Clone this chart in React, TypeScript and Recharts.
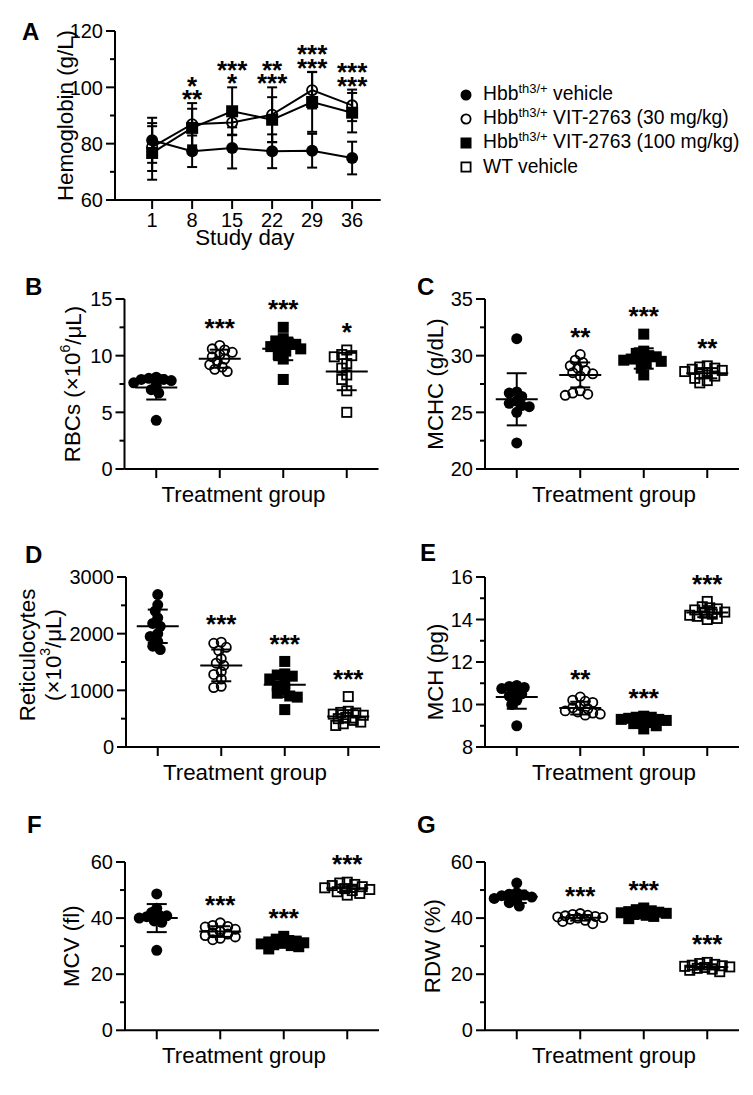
import React from "react";
import { ComposedChart, Line, Scatter, XAxis, YAxis, ErrorBar, Label } from "recharts";

const FONT = '"Liberation Sans", Arial, Helvetica, sans-serif';
const INK = "#000";
const AXIS = { stroke: INK, strokeWidth: 2 };

// Panel A: hemoglobin over the study
const studyDays = [1, 8, 15, 22, 29, 36];
const hbVehicle = [81.2, 77.3, 78.5, 77.3, 77.5, 74.9];
const hbVehicleSd = [8.0, 5.6, 7.3, 6.0, 6.0, 5.8];
const hbLow = [78.8, 86.9, 87.5, 90.3, 99.0, 93.6];
const hbLowSd = [8.5, 7.5, 4.3, 9.7, 6.5, 5.6];
const hbHigh = [76.7, 85.6, 91.5, 88.5, 94.8, 91.0];
const hbHighSd = [9.5, 6.8, 8.5, 8.0, 10.6, 7.0];
const hbStarsUpper = ["", "*", "***", "**", "***", "***"];
const hbStarsLower = ["", "**", "*", "***", "***", "***"];
const hbTicks = [60, 70, 80, 90, 100, 110, 120];
const hbMajor = [60, 80, 100, 120];

// Legend
const legendText = ["vehicle", "VIT-2763 (30 mg/kg)", "VIT-2763 (100 mg/kg)", "WT vehicle"];
const legendHbb = [true, true, true, false];

// Panel B: RBCs
const rbcVehicle = [8.1, 8.0, 7.9, 7.9, 7.8, 7.6, 7.4, 7.0, 6.7, 4.3];
const rbcLow = [10.9, 10.6, 10.5, 10.3, 10.1, 9.9, 9.7, 9.5, 9.2, 9.0, 8.8, 8.6];
const rbcHigh = [12.5, 11.5, 11.3, 11.1, 11.0, 10.9, 10.8, 10.6, 10.4, 10.1, 9.7, 7.9];
const rbcWt = [10.5, 10.1, 10.0, 9.9, 9.3, 8.9, 8.3, 7.9, 6.9, 5.0];
const rbcMean = [7.2, 9.73, 10.6, 8.6];
const rbcSd = [1.07, 0.8, 1.0, 1.65];
const rbcStars = ["", "***", "***", "*"];
const rbcTicks = [0, 2.5, 5, 7.5, 10, 12.5, 15];
const rbcMajor = [0, 5, 10, 15];

// Panel C: MCHC
const mchcVehicle = [31.5, 26.8, 26.7, 26.4, 26.0, 25.8, 25.6, 25.5, 25.0, 22.3];
const mchcLow = [30.1, 29.6, 29.4, 29.1, 28.9, 28.7, 28.5, 28.4, 28.2, 26.9, 26.7, 26.5, 26.6];
const mchcHigh = [31.9, 30.4, 30.2, 30.0, 29.9, 29.8, 29.7, 29.6, 29.5, 29.3, 28.9, 28.3];
const mchcWt = [29.1, 29.0, 28.9, 28.8, 28.7, 28.6, 28.5, 28.4, 28.2, 28.0, 27.8, 27.6];
const mchcMean = [26.15, 28.3, 29.75, 28.45];
const mchcSd = [2.3, 1.1, 0.9, 0.45];
const mchcStars = ["", "**", "***", "**"];
const mchcTicks = [20, 22.5, 25, 27.5, 30, 32.5, 35];
const mchcMajor = [20, 25, 30, 35];

// Panel D: reticulocytes
const reticVehicle = [2690, 2510, 2400, 2280, 2180, 2130, 2000, 1950, 1860, 1780, 1720];
const reticLow = [1850, 1830, 1760, 1700, 1560, 1480, 1440, 1330, 1280, 1200, 1070, 1050];
const reticHigh = [1510, 1290, 1270, 1250, 1200, 1120, 1080, 1000, 950, 900, 880, 660];
const reticWt = [890, 630, 610, 600, 580, 560, 520, 500, 470, 440, 410, 380];
const reticMean = [2130, 1440, 1100, 540];
const reticSd = [295, 280, 220, 110];
const reticStars = ["", "***", "***", "***"];
const reticTicks = [0, 500, 1000, 1500, 2000, 2500, 3000];
const reticMajor = [0, 1000, 2000, 3000];

// Panel E: MCH
const mchVehicle = [10.9, 10.85, 10.8, 10.75, 10.6, 10.5, 10.4, 10.2, 10.0, 9.0];
const mchLow = [10.35, 10.2, 10.15, 10.1, 9.95, 9.85, 9.8, 9.7, 9.65, 9.6, 9.55, 9.5];
const mchHigh = [9.45, 9.4, 9.4, 9.35, 9.3, 9.3, 9.25, 9.2, 9.15, 9.1, 9.0, 8.85];
const mchWt = [14.85, 14.6, 14.55, 14.5, 14.45, 14.35, 14.3, 14.25, 14.2, 14.15, 14.05, 14.0];
const mchMean = [10.35, 9.83, 9.25, 14.33];
const mchSd = [0.55, 0.3, 0.17, 0.22];
const mchStars = ["", "**", "***", "***"];
const mchTicks = [8, 9, 10, 11, 12, 13, 14, 15, 16];
const mchMajor = [8, 10, 12, 14, 16];

// Panel F: MCV
const mcvVehicle = [48.6, 43.5, 42.0, 41.0, 40.8, 40.5, 40.0, 39.0, 38.5, 28.5];
const mcvLow = [38.3, 37.4, 37.0, 36.8, 36.0, 35.2, 34.8, 34.3, 33.8, 33.3, 32.8, 32.3];
const mcvHigh = [33.5, 32.5, 32.0, 31.8, 31.5, 31.2, 31.0, 30.8, 30.5, 30.2, 29.8, 29.0];
const mcvWt = [52.8, 52.5, 52.0, 51.6, 51.2, 50.8, 50.5, 50.2, 49.8, 49.4, 48.8, 48.2];
const mcvMean = [40.0, 35.2, 31.0, 50.6];
const mcvSd = [5.0, 1.9, 1.2, 1.3];
const mcvStars = ["", "***", "***", "***"];

// Panel G: RDW
const rdwVehicle = [52.5, 49.0, 48.5, 48.2, 48.0, 47.5, 47.0, 46.5, 45.5, 44.3];
const rdwLow = [41.6, 41.3, 41.0, 40.8, 40.6, 40.4, 40.2, 40.0, 39.6, 39.2, 38.8, 38.0];
const rdwHigh = [43.6, 43.0, 42.6, 42.3, 42.1, 41.9, 41.7, 41.5, 41.3, 41.0, 40.6, 39.8];
const rdwWt = [24.2, 23.8, 23.5, 23.2, 23.0, 22.8, 22.6, 22.4, 22.1, 21.8, 21.4, 20.9];
const rdwMean = [47.6, 40.1, 41.8, 22.6];
const rdwSd = [2.2, 1.0, 1.0, 0.9];
const rdwStars = ["", "***", "***", "***"];

const pctTicks = [0, 10, 20, 30, 40, 50, 60];
const pctMajor = [0, 20, 40, 60];

const GROUP_PX = 63.5;
const X_AXIS_H = 40;
const STAR_FS = 26;
const STAR_GAP = 24;
const TITLE_FS = 22.3;
const TICK_FS = 20;

function Marker({ kind, cx = 0, cy = 0, r = 5.5 }: { kind: number; cx?: number; cy?: number; r?: number }) {
  if (kind === 0) return <circle cx={cx} cy={cy} r={r} fill={INK} />;
  if (kind === 1) return <circle cx={cx} cy={cy} r={r - 0.9} fill="none" stroke={INK} strokeWidth={1.8} />;
  if (kind === 2) return <rect x={cx - r} y={cy - r} width={2 * r} height={2 * r} fill={INK} />;
  return (
    <rect x={cx - r + 0.9} y={cy - r + 0.9} width={2 * r - 1.8} height={2 * r - 1.8} fill="none" stroke={INK} strokeWidth={1.8} />
  );
}

const yTick = (major: number[]) => (t: any) => {
  const ax = t.x + 12;
  const isMajor = major.includes(t.payload.value);
  return (
    <g>
      <line x1={ax} x2={ax - (isMajor ? 9 : 5)} y1={t.y} y2={t.y} stroke={INK} strokeWidth={2} />
      {isMajor && (
        <text x={t.x} y={t.y} dy="0.36em" textAnchor="end" fontSize={TICK_FS} fill={INK}>
          {t.payload.value}
        </text>
      )}
    </g>
  );
};

// one or two rows of asterisks, centred above (x, yCenter)
const starText = (x: number, yCenter: number, rows: string[], rowGap = 13.5) => (
  <text x={x} y={yCenter + STAR_FS * 0.58} textAnchor="middle" fontSize={STAR_FS} fontWeight="bold" fill={INK}>
    {rows.map((s, i) => (
      <tspan key={i} x={x} dy={i === 0 ? 0 : rowGap}>
        {s}
      </tspan>
    ))}
  </text>
);

// spread the points of one column sideways, GraphPad style
function swarm(values: number[], group: number, pxPerUnit: number) {
  const placed: { dx: number; py: number }[] = [];
  return [...values]
    .sort((a, b) => b - a)
    .map((v) => {
      const py = v * pxPerUnit;
      let best = 0;
      let bestD = -1;
      for (let k = 0; k < 19; k++) {
        const cand = k === 0 ? 0 : (k % 2 ? -1 : 1) * Math.ceil(k / 2) * 2.5;
        const d = Math.min(Infinity, ...placed.map((q) => Math.hypot(q.dx - cand, q.py - py)));
        if (d >= 6.5) {
          best = cand;
          break;
        }
        if (d > bestD) {
          bestD = d;
          best = cand;
        }
      }
      placed.push({ dx: best, py });
      return { x: group + best / GROUP_PX, y: v };
    });
}

type TitleLine = { dx: number; node: React.ReactNode };

type DotPanelProps = {
  left: number;
  width: number;
  axisX: number;
  plotTop: number;
  plotBottom: number;
  domain: [number, number];
  ticks: number[];
  major: number[];
  groups: number[][];
  means: number[];
  sds: number[];
  stars: string[];
  title: TitleLine[];
  titleDy?: number;
  xTitleShift: number;
};

function DotPanel(p: DotPanelProps) {
  const top = p.plotTop - 40;
  const height = p.plotBottom - top + 46;
  const ax = p.axisX - p.left;
  const plotW = GROUP_PX * 4;
  const pxPerUnit = (p.plotBottom - p.plotTop) / (p.domain[1] - p.domain[0]);
  const meanRows = p.means.map((m, i) => ({ x: i, y: m, sd: p.sds[i] }));
  const starRows = p.groups
    .map((g, i) => ({ x: i, y: Math.max(...g), label: p.stars[i] }))
    .filter((r) => r.label);
  const midY = (p.plotTop + p.plotBottom) / 2 - top + (p.titleDy ?? 0);

  return (
    <div style={{ position: "absolute", left: p.left, top }}>
      <ComposedChart
        width={p.width}
        height={height}
        margin={{ top: p.plotTop - top, right: p.width - ax - plotW, bottom: 46 - X_AXIS_H, left: 0 }}
      >
        <XAxis
          type="number"
          dataKey="x"
          domain={[-0.5, 3.5]}
          ticks={[0, 1, 2, 3]}
          interval={0}
          tickFormatter={() => ""}
          tickSize={9}
          height={X_AXIS_H}
          axisLine={AXIS}
          tickLine={AXIS}
        >
          <Label
            content={() => (
              <text x={ax + plotW / 2 + p.xTitleShift} y={p.plotBottom - top + 33} textAnchor="middle" fontSize={TITLE_FS} fill={INK}>
                Treatment group
              </text>
            )}
          />
        </XAxis>
        <YAxis
          type="number"
          dataKey="y"
          domain={p.domain}
          ticks={p.ticks}
          interval={0}
          width={ax}
          tickSize={9}
          tickMargin={3}
          tickLine={false}
          axisLine={AXIS}
          tick={yTick(p.major)}
        >
          <Label
            content={() => (
              <g>
                {p.title.map((l, i) => (
                  <text
                    key={i}
                    x={ax - l.dx}
                    y={midY}
                    transform={`rotate(-90 ${ax - l.dx} ${midY})`}
                    textAnchor="middle"
                    dominantBaseline="central"
                    fontSize={TITLE_FS}
                    fill={INK}
                  >
                    {l.node}
                  </text>
                ))}
              </g>
            )}
          />
        </YAxis>
        {p.groups.map((vals, g) => (
          <Scatter
            key={g}
            data={swarm(vals, g, pxPerUnit)}
            isAnimationActive={false}
            shape={(s: any) => <Marker kind={g} cx={s.cx} cy={s.cy} />}
          />
        ))}
        <Scatter
          data={meanRows}
          isAnimationActive={false}
          shape={(s: any) => <line x1={s.cx - 21} x2={s.cx + 21} y1={s.cy} y2={s.cy} stroke={INK} strokeWidth={2} />}
        >
          <ErrorBar dataKey="sd" direction="y" width={10} strokeWidth={2} stroke={INK} />
        </Scatter>
        <Scatter
          data={starRows}
          isAnimationActive={false}
          shape={(s: any) => starText(s.cx, s.cy - STAR_GAP, [s.payload.label])}
        />
      </ComposedChart>
    </div>
  );
}

function HemoglobinPanel() {
  const rows = studyDays.map((day, i) => ({
    day,
    veh: hbVehicle[i],
    vehSd: hbVehicleSd[i],
    low: hbLow[i],
    lowSd: hbLowSd[i],
    high: hbHigh[i],
    highSd: hbHighSd[i],
    top: Math.max(hbVehicle[i] + hbVehicleSd[i], hbLow[i] + hbLowSd[i], hbHigh[i] + hbHighSd[i]),
    upper: hbStarsUpper[i],
    lower: hbStarsLower[i],
  }));
  const starRows = rows.filter((r) => r.upper);
  const W = 384;
  const H = 262;
  const plotTop = 31;
  const plotBottom = 200;
  const ax = 115;
  const plotW = 265.7;
  const series = [
    { key: "veh", sd: "vehSd", kind: 0 },
    { key: "low", sd: "lowSd", kind: 1 },
    { key: "high", sd: "highSd", kind: 2 },
  ];

  return (
    <div style={{ position: "absolute", left: 0, top: 0 }}>
      <ComposedChart
        width={W}
        height={H}
        data={rows}
        margin={{ top: plotTop, right: W - ax - plotW, bottom: H - plotBottom - 50, left: 0 }}
      >
        <XAxis
          type="number"
          dataKey="day"
          domain={[-5.5, 41]}
          ticks={studyDays}
          interval={0}
          tickSize={9}
          tickMargin={4}
          height={50}
          axisLine={AXIS}
          tickLine={AXIS}
          tick={{ fontSize: TICK_FS, fill: INK }}
        >
          <Label
            content={() => (
              <text x={ax + plotW / 2 - 3} y={245} textAnchor="middle" fontSize={TITLE_FS} fill={INK}>
                Study day
              </text>
            )}
          />
        </XAxis>
        <YAxis
          type="number"
          dataKey="top"
          domain={[60, 120]}
          ticks={hbTicks}
          interval={0}
          width={ax}
          tickSize={9}
          tickMargin={3}
          tickLine={false}
          axisLine={AXIS}
          tick={yTick(hbMajor)}
        >
          <Label
            content={() => (
              <text
                x={ax - 50}
                y={(plotTop + plotBottom) / 2}
                transform={`rotate(-90 ${ax - 50} ${(plotTop + plotBottom) / 2})`}
                textAnchor="middle"
                dominantBaseline="central"
                fontSize={TITLE_FS}
                fill={INK}
              >
                Hemoglobin (g/L)
              </text>
            )}
          />
        </YAxis>
        {series.map((s) => (
          <Line
            key={s.key}
            dataKey={s.key}
            stroke={INK}
            strokeWidth={2}
            isAnimationActive={false}
            activeDot={false}
            dot={(d: any) => <Marker key={`${s.key}-${d.index}`} kind={s.kind} cx={d.cx} cy={d.cy} r={6} />}
          >
            <ErrorBar dataKey={s.sd} direction="y" width={5} strokeWidth={2} stroke={INK} />
          </Line>
        ))}
        <Scatter
          data={starRows}
          isAnimationActive={false}
          shape={(s: any) => starText(s.cx, s.cy - 23.5, [s.payload.upper, s.payload.lower])}
        />
      </ComposedChart>
    </div>
  );
}

function GroupLegend() {
  return (
    <div style={{ position: "absolute", left: 459, top: 83, fontSize: 19.3, lineHeight: "24px", color: INK }}>
      {legendText.map((t, i) => (
        <div key={t} style={{ display: "flex", alignItems: "center", height: 24, whiteSpace: "pre" }}>
          <svg width={14} height={14} style={{ marginRight: 10 }}>
            <Marker kind={i} cx={7} cy={7} r={5.5} />
          </svg>
          <span>
            {legendHbb[i] && (
              <>
                Hbb<span style={{ fontSize: 13, position: "relative", top: -7 }}>th3/+</span>
                {"\u00a0"}
              </>
            )}
            {t}
          </span>
        </div>
      ))}
    </div>
  );
}

const panelLetters = [
  { l: "A", x: 22, base: 40 },
  { l: "B", x: 25, base: 295 },
  { l: "C", x: 417, base: 295 },
  { l: "D", x: 25, base: 563 },
  { l: "E", x: 420, base: 561 },
  { l: "F", x: 27, base: 833 },
  { l: "G", x: 417, base: 833 },
];

const sup = (s: string) => (
  <>
    <tspan dy={-8} fontSize={14}>
      {s}
    </tspan>
    <tspan dy={8}>/μL)</tspan>
  </>
);

export default function App() {
  return (
    <div
      style={{
        position: "absolute",
        left: 0,
        top: 0,
        width: 753,
        height: 1095,
        background: "#fff",
        fontFamily: FONT,
        overflow: "hidden",
      }}
    >
      <HemoglobinPanel />
      <GroupLegend />
      <DotPanel
        left={0}
        width={384}
        axisX={124.5}
        plotTop={299.3}
        plotBottom={469.3}
        domain={[0, 15]}
        ticks={rbcTicks}
        major={rbcMajor}
        groups={[rbcVehicle, rbcLow, rbcHigh, rbcWt]}
        means={rbcMean}
        sds={rbcSd}
        stars={rbcStars}
        title={[{ dx: 52, node: <>RBCs (×10{sup("6")}</> }]}
        xTitleShift={-8}
      />
      <DotPanel
        left={380}
        width={373}
        axisX={485}
        plotTop={299.3}
        plotBottom={469.3}
        domain={[20, 35]}
        ticks={mchcTicks}
        major={mchcMajor}
        groups={[mchcVehicle, mchcLow, mchcHigh, mchcWt]}
        means={mchcMean}
        sds={mchcSd}
        stars={mchcStars}
        title={[{ dx: 50, node: "MCHC (g/dL)" }]}
        xTitleShift={2}
      />
      <DotPanel
        left={0}
        width={384}
        axisX={126}
        plotTop={576.7}
        plotBottom={746.7}
        domain={[0, 3000]}
        ticks={reticTicks}
        major={reticMajor}
        groups={[reticVehicle, reticLow, reticHigh, reticWt]}
        means={reticMean}
        sds={reticSd}
        stars={reticStars}
        title={[
          { dx: 99, node: "Reticulocytes" },
          { dx: 73, node: <>(×10{sup("3")}</> },
        ]}
        titleDy={-7}
        xTitleShift={-8}
      />
      <DotPanel
        left={380}
        width={373}
        axisX={485}
        plotTop={576.7}
        plotBottom={746.7}
        domain={[8, 16]}
        ticks={mchTicks}
        major={mchMajor}
        groups={[mchVehicle, mchLow, mchHigh, mchWt]}
        means={mchMean}
        sds={mchSd}
        stars={mchStars}
        title={[{ dx: 50, node: "MCH (pg)" }]}
        titleDy={10}
        xTitleShift={2}
      />
      <DotPanel
        left={0}
        width={384}
        axisX={125}
        plotTop={861.7}
        plotBottom={1030}
        domain={[0, 60]}
        ticks={pctTicks}
        major={pctMajor}
        groups={[mcvVehicle, mcvLow, mcvHigh, mcvWt]}
        means={mcvMean}
        sds={mcvSd}
        stars={mcvStars}
        title={[{ dx: 53, node: "MCV (fl)" }]}
        xTitleShift={-8}
      />
      <DotPanel
        left={380}
        width={373}
        axisX={485}
        plotTop={861.7}
        plotBottom={1030}
        domain={[0, 60]}
        ticks={pctTicks}
        major={pctMajor}
        groups={[rdwVehicle, rdwLow, rdwHigh, rdwWt]}
        means={rdwMean}
        sds={rdwSd}
        stars={rdwStars}
        title={[{ dx: 52, node: "RDW (%)" }]}
        xTitleShift={2}
      />
      {panelLetters.map((p) => (
        <div
          key={p.l}
          style={{
            position: "absolute",
            left: p.x,
            top: p.base - 20.3,
            fontSize: 24,
            lineHeight: "24px",
            fontWeight: "bold",
            color: INK,
          }}
        >
          {p.l}
        </div>
      ))}
    </div>
  );
}
